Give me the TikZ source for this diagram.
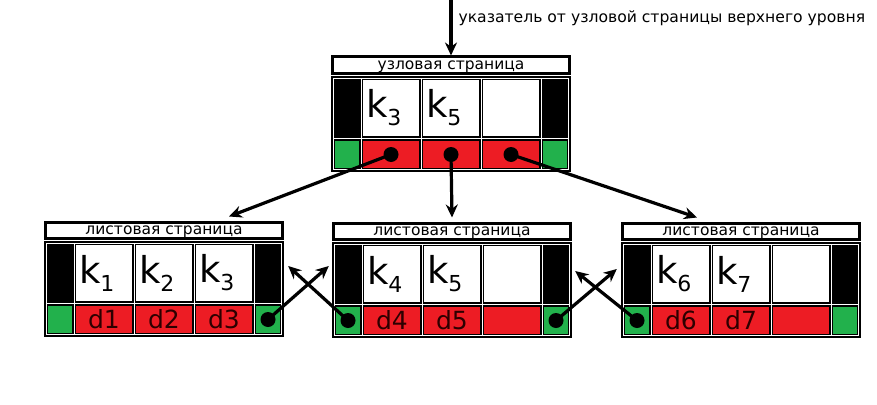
\documentclass[tikz,border=0pt]{standalone}
\usepackage{fontspec}
\setmainfont{DejaVu Sans}
\usetikzlibrary{arrows.meta,positioning,calc}

\definecolor{cellred}{RGB}{237,28,36}
\definecolor{cellgreen}{RGB}{34,177,76}
\definecolor{datatext}{RGB}{45,0,0}

\newcommand{\kk}[1]{k\raisebox{-8pt}{\fontsize{22}{22}\selectfont #1}}

% one page of the tree: title bar, key row, pointer row
\newcommand{\indexpage}[8]{%
  \node[titlebar] (#1-title) at (120,9) {#2};
  \node[pagebody] (#1) at (120,68) {};
  \draw[gridline] (2.5,22.5) rectangle (237.5,113.5);
  \foreach \gx in {30,90,150,210} \draw[gridline] (\gx,22.5) -- (\gx,113.5);
  \draw[gridline] (2.5,82.5) -- (237.5,82.5);
  \node[keycell]  (#1-k1)   at (60,52)    {#3};
  \node[keycell]  (#1-k2)   at (120,52)   {#4};
  \node[keycell]  (#1-k3)   at (180,52)   {#5};
  \node[endcell]  (#1-prev) at (16,98.5)  {};
  \node[datacell] (#1-d1)   at (60,98.5)  {#6};
  \node[datacell] (#1-d2)   at (120,98.5) {#7};
  \node[datacell] (#1-d3)   at (180,98.5) {#8};
  \node[endcell]  (#1-next) at (224,98.5) {};
}

\begin{document}
\begin{tikzpicture}[
    x=1pt, y=-1pt,
    titlebar/.style={rectangle, draw, line width=3pt, fill=white, minimum width=237pt,
                     minimum height=16pt, inner sep=0pt, text height=11pt, text depth=2.5pt,
                     font=\fontsize{15.5}{15.5}\selectfont},
    pagebody/.style={rectangle, fill=black, minimum width=240pt, minimum height=96pt, inner sep=0pt},
    gridline/.style={white, line width=0.8pt},
    keycell/.style={rectangle, fill=white, minimum width=56pt, minimum height=56pt, inner sep=0pt,
                    text width=50pt, align=left, font=\fontsize{37}{37}\selectfont},
    datacell/.style={rectangle, fill=cellred, minimum width=56pt, minimum height=27pt, inner sep=0pt,
                     text=datatext, font=\fontsize{25}{25}\selectfont},
    endcell/.style={rectangle, fill=cellgreen, minimum width=24pt, minimum height=27pt, inner sep=0pt},
    dot/.style={circle, fill=black, minimum size=15pt, inner sep=0pt},
    arrow/.style={-{Stealth[length=13pt,width=12pt]}, line width=3.2pt},
    lbl/.style={font=\fontsize{15.6}{15.6}\selectfont}
]
\useasboundingbox (0,0) rectangle (877,404);

%% ── Node page ────────────────────────────────────────────────────
\begin{scope}[shift={(331,56)}]
  \indexpage{root}{узловая страница}{\kk{3}}{\kk{5}}{}{}{}{}
\end{scope}

%% ── Leaf pages ───────────────────────────────────────────────────
\begin{scope}[shift={(44,221)}]
  \indexpage{leafL}{листовая страница}{\kk{1}}{\kk{2}}{\kk{3}}{d1}{d2}{d3}
\end{scope}
\begin{scope}[shift={(332,222)}]
  \indexpage{leafM}{листовая страница}{\kk{4}}{\kk{5}}{}{d4}{d5}{}
\end{scope}
\begin{scope}[shift={(621,222)}]
  \indexpage{leafR}{листовая страница}{\kk{6}}{\kk{7}}{}{d6}{d7}{}
\end{scope}

%% ── Pointer dots ─────────────────────────────────────────────────
\node[dot] (root-p1) at (root-d1) {};
\node[dot] (root-p2) at (root-d2) {};
\node[dot] (root-p3) at (root-d3) {};
\node[dot] (leafL-n) at (leafL-next) {};
\node[dot] (leafM-p) at (leafM-prev) {};
\node[dot] (leafM-n) at (leafM-next) {};
\node[dot] (leafR-p) at (leafR-prev) {};

%% ── Incoming pointer ─────────────────────────────────────────────
\coordinate (top) at (451,0);
\draw[arrow] (top) -- (top |- root-title.north);
\node[lbl, anchor=west] (toplabel) at (455,18) {указатель от узловой страницы верхнего уровня};

%% ── Arrows ───────────────────────────────────────────────────────
\draw[arrow] (root-p1.center) -- ([xshift=65pt,yshift=4pt]leafL-title.north);
\draw[arrow] (root-p2.center) -- ([yshift=4pt]leafM-title.north);
\draw[arrow] (root-p3.center) -- ([xshift=-44pt,yshift=4pt]leafR-title.north);
\draw[arrow] (leafL-n.center) -- ([xshift=-3pt,yshift=24pt]leafM.west);
\draw[arrow] (leafM-p.center) -- ([xshift=4pt,yshift=23pt]leafL.east);
\draw[arrow] (leafM-n.center) -- ([xshift=-4pt,yshift=21pt]leafR.west);
\draw[arrow] (leafR-p.center) -- ([xshift=3pt,yshift=19pt]leafM.east);

\end{tikzpicture}
\end{document}
